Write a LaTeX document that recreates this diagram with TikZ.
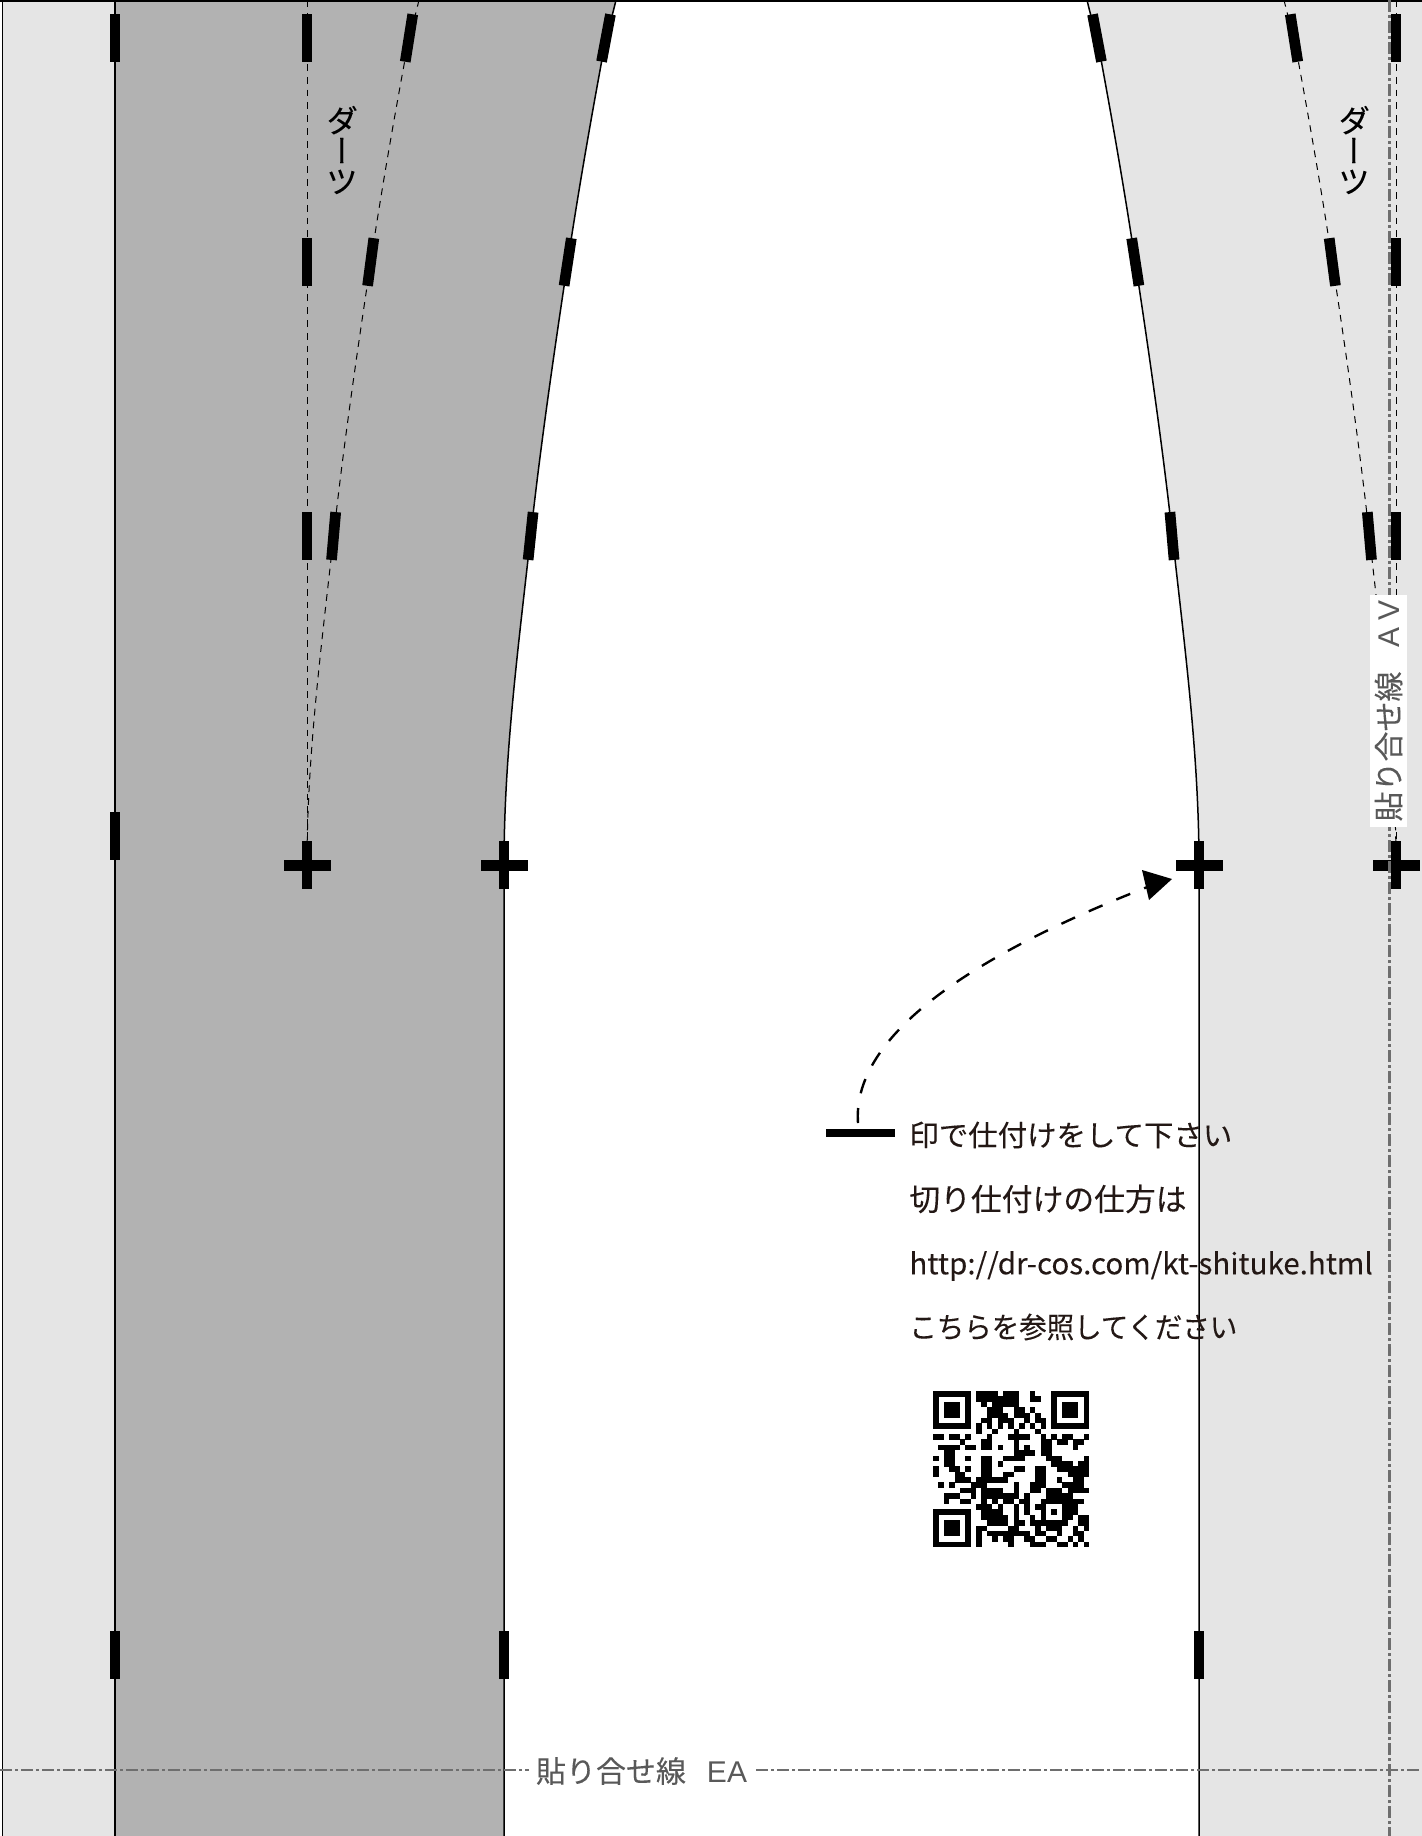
\documentclass[tikz,border=0pt]{standalone}
\usepackage{graphicx}
\usepackage{fontspec}
\setmainfont{Noto Sans CJK JP}[FakeBold=0.12]
\newfontfamily\vjp[RawFeature={+vert},FakeBold=0.12]{Noto Sans CJK JP}
\newfontfamily\lat{Liberation Sans}
\definecolor{paleg}{HTML}{E5E5E5}
\definecolor{midg}{HTML}{B2B2B2}
\definecolor{guideg}{HTML}{6E6E6E}
\definecolor{labelg}{HTML}{595959}
\definecolor{inkk}{HTML}{231815}
\tikzset{
  x=0.5pt,y=-0.5pt,
  tick/.style={fill=black,inner sep=0pt,minimum width=5.35pt,minimum height=24pt},
  crossbar/.style={fill=black,inner sep=0pt,minimum width=5.35pt,minimum height=23.5pt},
  pattern line/.style={line width=0.75pt,black},
  dart line/.style={line width=0.5pt,black,dash pattern=on 3.4pt off 3pt},
  guide/.style={line width=1.15pt,guideg,dash pattern=on 6pt off 1.5pt on 1.5pt off 1.5pt},
  guide label/.style={fill=white,text=labelg,inner sep=0pt,font=\fontsize{15}{15}\selectfont},
  note/.style={anchor=west,inner sep=0pt,text=inkk,font=\fontsize{14.5}{15}\selectfont},
  dart text/.style={inner sep=0pt,align=center,font=\vjp\fontsize{16}{15.2}\selectfont},
  left seam/.style={insert path={.. controls (613,13) and (609.5,25) .. (606,38) .. controls (592,113) and (579,187) .. (567.7,262) .. controls (554,353) and (540.6,445) .. (530.6,536) .. controls (518.5,646) and (504,755) .. (504,865)}},
  right seam/.style={insert path={.. controls (1090,13) and (1093.5,25) .. (1097,38) .. controls (1111,113) and (1124,187) .. (1135.3,262) .. controls (1149,353) and (1162.4,445) .. (1172.4,536) .. controls (1184.5,646) and (1199,755) .. (1199,865)}}
}
\newcount\qrx \newcount\qry
\def\qrnext#1{\ifx#1\relax\let\qrgo\relax\else\if#11\fill (\the\qrx,\the\qry) rectangle ++(1.03,1.03);\fi\advance\qrx by 1 \let\qrgo\qrnext\fi\qrgo}
\def\qrline#1{\qrx=0 \qrnext#1\relax\advance\qry by 1 }
\begin{document}
\begin{tikzpicture}
\useasboundingbox (0,0) rectangle (1422,1836);
\fill[white] (0,0) rectangle (1422,1836);
% coloured panels
\fill[paleg] (2.5,0) rectangle (115,1836);
\fill[midg] (115,0) -- (616,0) [left seam] -- (504,1836) -- (115,1836) -- cycle;
\fill[paleg] (1422,0) -- (1087,0) [right seam] -- (1199,1836) -- (1422,1836) -- cycle;
% outlines
\draw[pattern line] (0,1) -- (1422,1);
\draw[pattern line] (2.5,0) -- (2.5,1836);
\draw[pattern line] (115,0) -- (115,1836);
\draw[pattern line] (616,0) [left seam] -- (504,1836);
\draw[pattern line] (1087,0) [right seam] -- (1199,1836);
% darts
\draw[dart line] (307,0) -- (307,840);
\begin{scope}[xshift=-98.5pt]
\draw[dart line] (616,0) [left seam];
\end{scope}
\draw[dart line] (1396,0) -- (1396,840);
\begin{scope}[xshift=98.5pt]
\draw[dart line] (1087,0) [right seam];
\end{scope}
% ticks
\foreach \nm/\px/\py/\ang in {
 a1/115/38/0,a2/115/836/0,a3/115/1655/0,
 b1/307/38/0,b2/307/262/0,b3/307/536/0,
 c1/409/38/-9,c2/370.7/262/-7.5,c3/333.6/536/-5,
 d1/606/38/-10.7,d2/567.7/262/-8.7,d3/530.6/536/-6,d4/504/1655/0,
 e1/1097/38/10.7,e2/1135.3/262/8.7,e3/1172/536/5,e4/1199/1655/0,
 f1/1294/38/9,f2/1332.3/262/7.5,f3/1369.4/536/5,
 g1/1396/38/0,g2/1396/262/0,g3/1396/536/0}
 \node[tick,rotate=\ang] (\nm) at (\px,\py) {};
% crosses
\foreach \nm/\px in {p/307,q/504,r/1199,s/1396}{
 \node[tick] (\nm v) at (\px,865) {};
 \node[crossbar,rotate=90] (\nm h) at (\px,865.5) {};
}
% guides
\draw[guide] (0,1770) -- (1422,1770);
\draw[guide] (1389.5,0) -- (1389.5,1836);
\node[guide label,minimum width=113pt,minimum height=18.5pt] (ea) at (641.5,1771) {貼り合せ線\hspace{10.5pt}{\lat EA}};
\node[guide label,rotate=90,minimum width=116pt,minimum height=18.5pt] (av) at (1388.5,711) {貼り合せ線\hspace{12pt}{\lat A\hspace{3.5pt}V}};
% dart labels
\node[dart text] (dl) at (342,150) {ダ\\ー\\ツ};
\node[dart text] (dr) at (1354,150) {ダ\\ー\\ツ};
% instructions
\node[fill=black,inner sep=0pt,minimum width=34.5pt,minimum height=4pt] (bar) at (860.5,1133) {};
\coordinate (tip) at (1172,879);
\draw[line width=1.2pt,black,dash pattern=on 7.5pt off 7.5pt] (858,1123) .. controls (852,1040) and (960,960) .. (1150,886);
\fill[black] (tip) -- (1142,870) -- (1149,900) -- cycle;
\node[note] (n1) at (909,1135) {\scalebox{1.015}[1]{印で仕付けをして下さい}};
\node[note,font=\fontsize{15.4}{15}\selectfont] (n2) at (909,1199) {切り仕付けの仕方は};
\node[note] (n3) at (909,1266) {\scalebox{1.02}[1]{http://dr-cos.com/kt-shituke.html}};
\node[note] (n4) at (909,1327) {\scalebox{0.947}[1]{こちらを参照してください}};
% QR code
\begin{scope}[shift={(933,1391)},x=2.69pt,y=-2.69pt,fill=black]
\qry=0
\qrline{11111110111101110010001111111}
\qrline{10000010111111110011001000001}
\qrline{10111010010111110000001011101}
\qrline{10111010001110011010001011101}
\qrline{10111010001111011101001011101}
\qrline{10000010011011100101101000001}
\qrline{11111110101010101010101111111}
\qrline{00000000100100010001000000000}
\qrline{11011010001000111100101011001}
\qrline{00000100011000010000110110110}
\qrline{01111011011010010100110000100}
\qrline{00110000000000011110110000000}
\qrline{10110010011001111000011100001}
\qrline{00110000011010000000001111011}
\qrline{10011010011000011001100111111}
\qrline{10001100011001100001100001111}
\qrline{00001110111111000001100100110}
\qrline{01010001110000010011100011110}
\qrline{00000111011110010011011101111}
\qrline{00111001011111110100011111000}
\qrline{00100110010101101100111111110}
\qrline{00000000111010010101100011100}
\qrline{11111110011110010100101011100}
\qrline{10000010011111010010100011011}
\qrline{10111010001111011011111110011}
\qrline{10111010110000110001011100101}
\qrline{10111010101111111101100100110}
\qrline{10000010100101100110011001010}
\qrline{11111110100000100011100110101}
\end{scope}
\end{tikzpicture}
\end{document}
